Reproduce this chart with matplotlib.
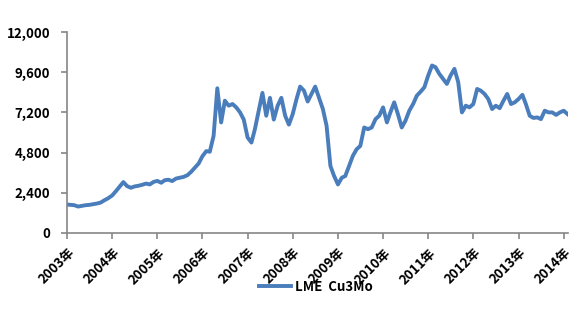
import matplotlib
matplotlib.use("Agg")
import matplotlib.pyplot as plt
import matplotlib.dates as mdates
import pandas as pd
from matplotlib.ticker import FuncFormatter, FixedLocator

plt.rcParams['font.family'] = ['Noto Sans CJK SC', 'DejaVu Sans']

# Monthly LME 3M copper (USD/t)
start_month = "2003-01-01"
prices = [
    # 2003
    1700, 1680, 1660, 1580, 1620, 1660, 1680, 1720, 1760, 1820, 1960, 2080,
    # 2004
    2240, 2500, 2760, 3040, 2800, 2700, 2780, 2820, 2880, 2950, 2900, 3050,
    # 2005
    3110, 3000, 3150, 3180, 3100, 3250, 3300, 3350, 3450, 3650, 3900, 4150,
    # 2006
    4590, 4890, 4850, 5800, 8640, 6600, 7900, 7600, 7700, 7500, 7200, 6770,
    # 2007
    5700, 5400, 6200, 7300, 8365, 7000, 8070, 6770, 7600, 8070, 7000, 6470,
    # 2008
    7100, 8000, 8740, 8500, 7850, 8300, 8740, 8070, 7400, 6400, 4000, 3400,
    # 2009
    2900, 3300, 3400, 4000, 4600, 5000, 5200, 6300, 6200, 6300, 6800, 7000,
    # 2010
    7500, 6600, 7200, 7800, 7100, 6300, 6700, 7300, 7700, 8200, 8440, 8700,
    # 2011
    9400, 10000, 9900, 9500, 9200, 8900, 9400, 9800, 9000, 7200, 7600, 7500,
    # 2012
    7700, 8600, 8500, 8300, 8000, 7400, 7600, 7450, 7900, 8300, 7700, 7800,
    # 2013
    8000, 8250, 7700, 7000, 6870, 6900, 6800, 7300, 7200, 7200, 7050, 7200,
    # 2014
    7300, 7100,
]
dates = pd.date_range(start_month, periods=len(prices), freq="MS")

years = list(range(2003, 2015))
year_labels = [f"{y}年" for y in years]
yticks = [0, 2400, 4800, 7200, 9600, 12000]
series_name = "LME  Cu3Mo"

W, H = 580, 323
fig = plt.figure(figsize=(W / 100, H / 100), dpi=100)
ax = fig.add_axes([67 / W, 1 - 233 / H, (568 - 67) / W, (233 - 32) / H])

line, = ax.plot(dates, prices, color="#4a7dbb", lw=2.8, solid_joinstyle="round")

ax.set_ylim(0, 12000)
ax.set_xlim(pd.Timestamp("2003-01-01"), pd.Timestamp("2014-02-05"))
ax.set_yticks(yticks)
ax.yaxis.set_major_formatter(FuncFormatter(lambda v, p: f"{int(v):,}"))

tick_dates = [mdates.date2num(pd.Timestamp(f"{y}-01-01")) for y in years]
ax.xaxis.set_major_locator(FixedLocator(tick_dates))
ax.set_xticklabels(year_labels)

gray = "#868686"
for s in ["top", "right"]:
    ax.spines[s].set_visible(False)
for s in ["left", "bottom"]:
    ax.spines[s].set_color(gray)
    ax.spines[s].set_linewidth(1.2)

ax.tick_params(axis="y", direction="out", length=4, width=1.2, color=gray,
               pad=8, labelsize=9.5)
ax.tick_params(axis="x", direction="out", length=4, width=1.2, color=gray,
               pad=5, labelsize=9.5)
for lab in ax.get_yticklabels():
    lab.set_fontweight("bold")
for lab in ax.get_xticklabels():
    lab.set_rotation(45)
    lab.set_ha("right")
    lab.set_va("top")
    lab.set_rotation_mode("anchor")
    lab.set_fontweight("bold")

fig.legend([line], [series_name], loc="center", bbox_to_anchor=(316 / W, 1 - 287 / H),
           frameon=False, handlelength=2.4, handletextpad=0.3,
           prop={"size": 9.5, "weight": "bold"})

fig.savefig("out.png", dpi=100)
